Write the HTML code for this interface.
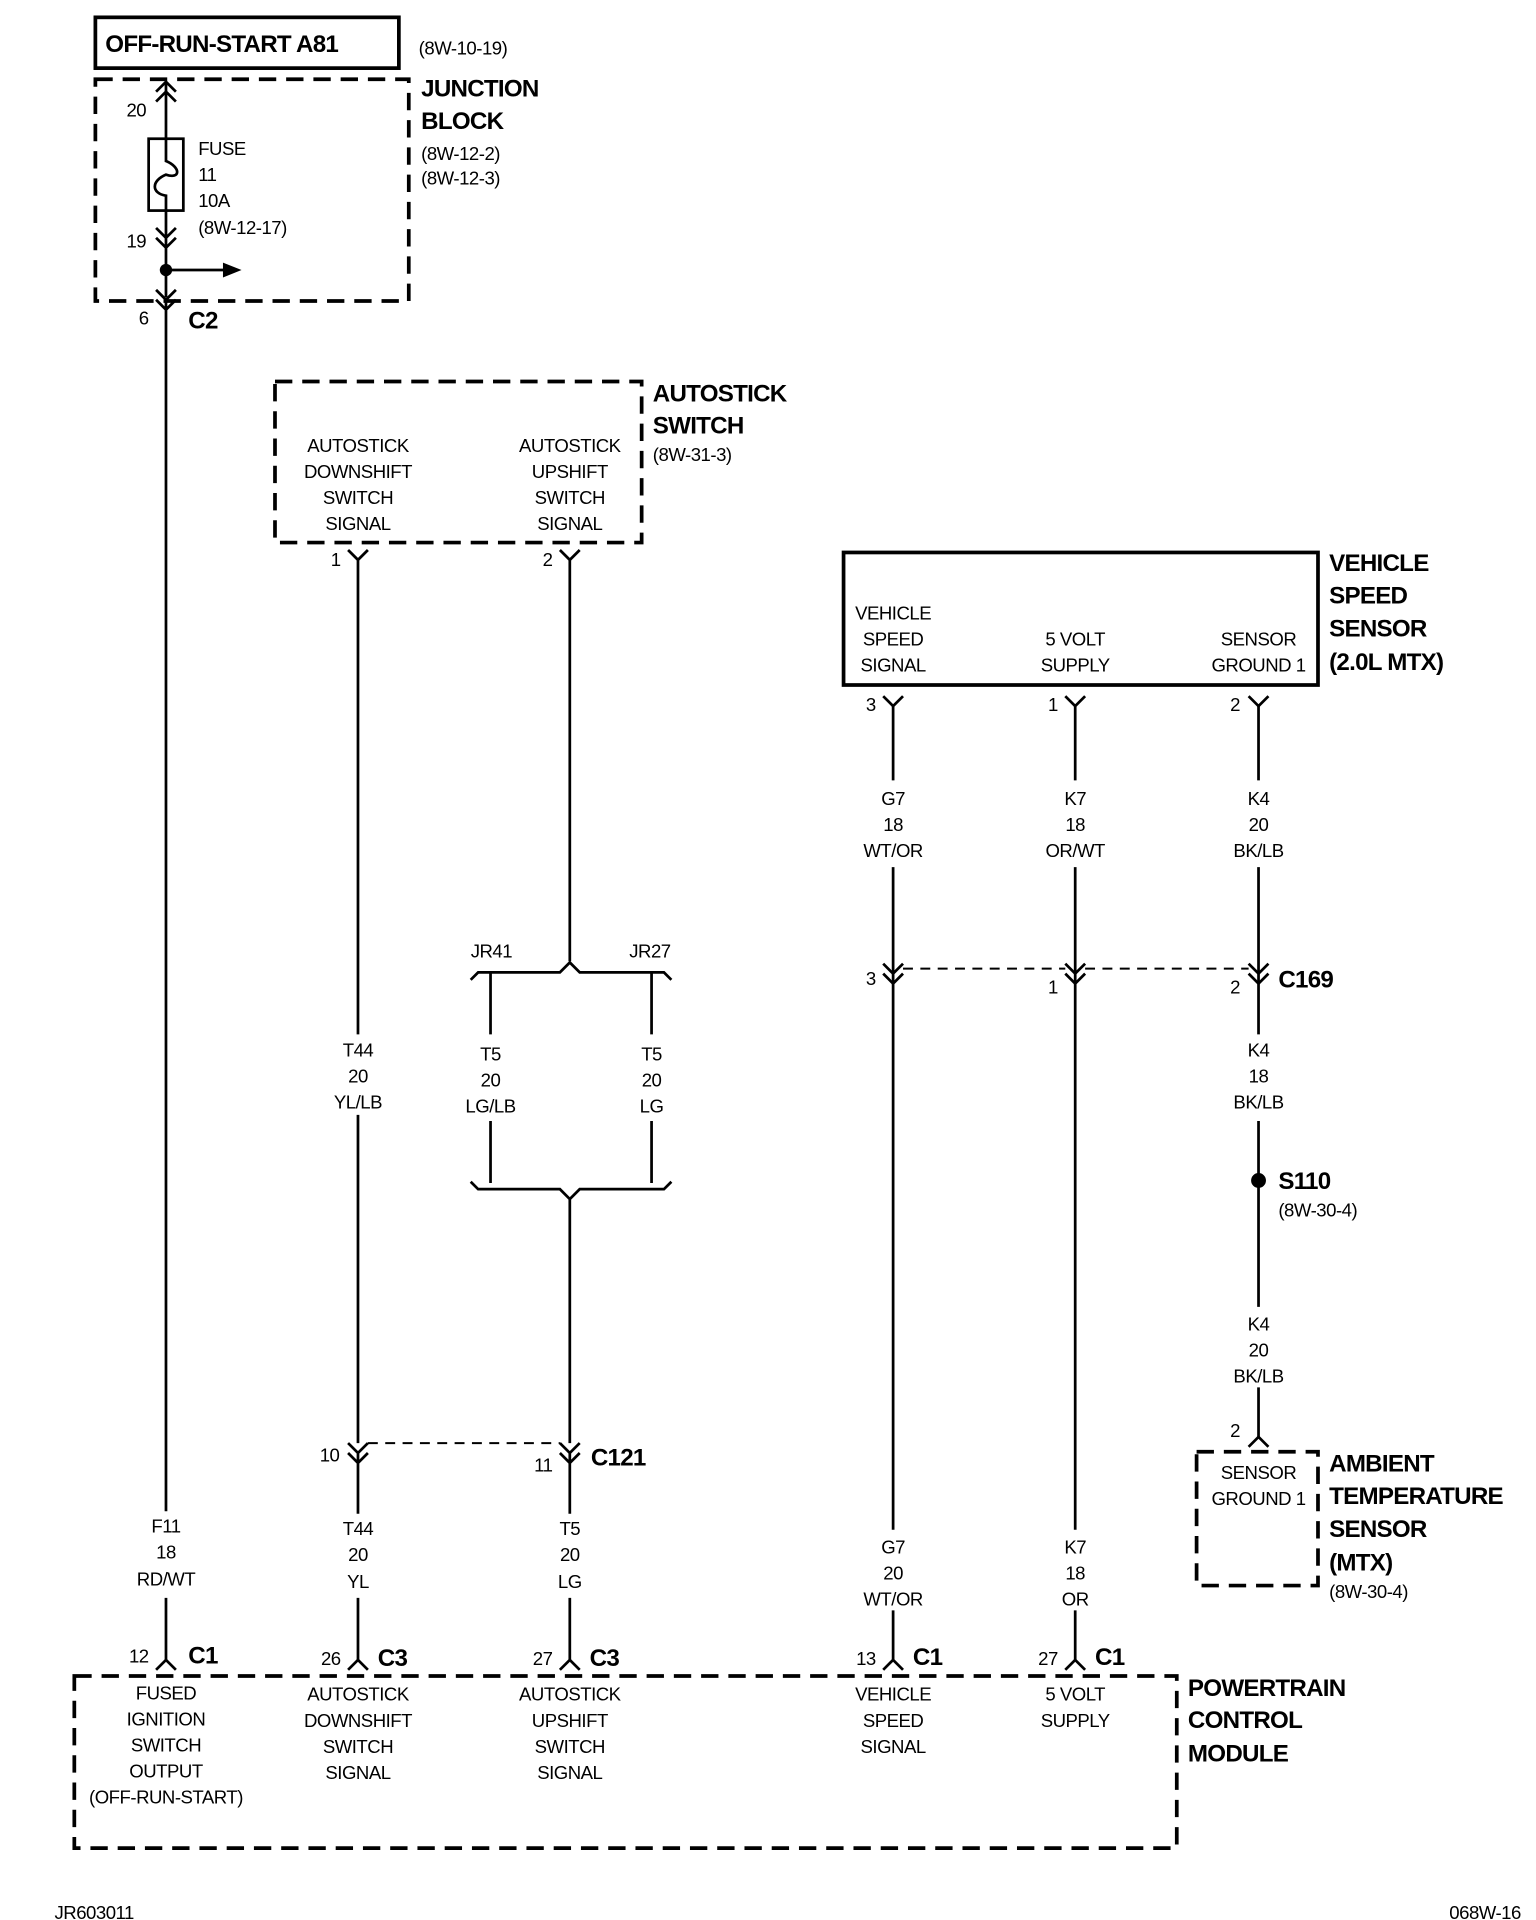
<!DOCTYPE html>
<html><head><meta charset="utf-8"><style>
html,body{margin:0;padding:0;background:#fff;}
svg{display:block}
text{font-family:"Liberation Sans Narrow","Liberation Sans",sans-serif;fill:#000;}
.t{font-size:15px;text-anchor:middle;letter-spacing:-0.4px}
.l{font-size:15px;letter-spacing:-0.4px}
.b{font-size:19.5px;font-weight:bold;letter-spacing:-0.6px}
.w{stroke:#000;stroke-width:2.2;fill:none}
.d{stroke:#000;stroke-width:3;fill:none;stroke-dasharray:14,8}
.dl{stroke:#000;stroke-width:1.6;fill:none;stroke-dasharray:8,6}
</style></head><body>
<svg width="1536" height="1920" viewBox="0 0 1240 1550" xmlns="http://www.w3.org/2000/svg">
<rect x="77" y="14" width="245" height="41" fill="none" stroke="#000" stroke-width="3"/>
<text x="85" y="42" class="b">OFF-RUN-START A81</text>
<text x="338" y="44" class="l">(8W-10-19)</text>
<rect x="77" y="64" width="253" height="179" class="d"/>
<text x="340" y="78" class="b">JUNCTION</text>
<text x="340" y="104" class="b">BLOCK</text>
<text x="340" y="129" class="l">(8W-12-2)</text>
<text x="340" y="149" class="l">(8W-12-3)</text>
<path class="w" d="M134 66 V112 M126 74 L134 66 L142 74 M126 82 L134 74 L142 82"/>
<text x="118" y="94" class="l" text-anchor="end">20</text>
<rect x="120" y="112" width="28" height="58" class="w"/>
<path class="w" d="M134 112 V130 C146 135 146 145 134 141 C122 146 122 156 134 158 V170"/>
<text x="160" y="125" class="l">FUSE</text>
<text x="160" y="146" class="l">11</text>
<text x="160" y="167" class="l">10A</text>
<text x="160" y="189" class="l">(8W-12-17)</text>
<path class="w" d="M134 170 V240 M126 184 L134 192 L142 184 M126 192 L134 200 L142 192"/>
<text x="118" y="200" class="l" text-anchor="end">19</text>
<circle cx="134" cy="218" r="5"/>
<path class="w" d="M134 218 H182"/>
<path d="M180 212 L195 218 L180 224Z"/>
<path class="w" d="M126 234 L134 242 L142 234 M126 242 L134 250 L142 242 M134 242 V1220 M134 1290 V1340"/>
<text x="120" y="262" class="l" text-anchor="end">6</text>
<text x="152" y="265" class="b">C2</text>

<rect x="222" y="308" width="296" height="130" class="d"/>
<text x="527" y="324" class="b">AUTOSTICK</text>
<text x="527" y="350" class="b">SWITCH</text>
<text x="527" y="372" class="l">(8W-31-3)</text>
<g class="t"><text x="289" y="365">AUTOSTICK</text><text x="289" y="386">DOWNSHIFT</text><text x="289" y="407">SWITCH</text><text x="289" y="428">SIGNAL</text>
<text x="460" y="365">AUTOSTICK</text><text x="460" y="386">UPSHIFT</text><text x="460" y="407">SWITCH</text><text x="460" y="428">SIGNAL</text></g>
<path class="w" d="M281 444 L289 452 L297 444 M289 452 V835 M289 900 V1165"/>
<text x="275" y="457" class="l" text-anchor="end">1</text>
<path class="w" d="M452 444 L460 452 L468 444 M460 452 V776"/>
<text x="446" y="457" class="l" text-anchor="end">2</text>
<text x="380" y="773" class="l">JR41</text><text x="508" y="773" class="l">JR27</text>
<path class="w" d="M380 791 L386 785 H452 L460 777 L468 785 H536 L542 791"/>
<path class="w" d="M396 785 V835 M526 785 V835 M396 905 V955 M526 905 V955"/>
<path class="w" d="M380 954 L386 960 H452 L460 968 L468 960 H536 L542 954 M460 968 V1165"/>
<g class="t"><text x="289" y="853">T44</text><text x="289" y="874">20</text><text x="289" y="895">YL/LB</text>
<text x="396" y="856">T5</text><text x="396" y="877">20</text><text x="396" y="898">LG/LB</text>
<text x="526" y="856">T5</text><text x="526" y="877">20</text><text x="526" y="898">LG</text></g>
<path class="w" d="M281 1165 L289 1173 L297 1165 M281 1173 L289 1181 L297 1173 M289 1173 V1222 M289 1290 V1340"/>
<path class="w" d="M452 1165 L460 1173 L468 1165 M452 1173 L460 1181 L468 1173 M460 1173 V1222 M460 1290 V1340"/>
<path class="dl" d="M297 1165 H452"/>
<text x="274" y="1180" class="l" text-anchor="end">10</text>
<text x="446" y="1188" class="l" text-anchor="end">11</text>
<text x="477" y="1183" class="b">C121</text>
<g class="t"><text x="134" y="1237">F11</text><text x="134" y="1258">18</text><text x="134" y="1280">RD/WT</text>
<text x="289" y="1239">T44</text><text x="289" y="1260">20</text><text x="289" y="1282">YL</text>
<text x="460" y="1239">T5</text><text x="460" y="1260">20</text><text x="460" y="1282">LG</text></g>

<rect x="681" y="446" width="383" height="107" fill="none" stroke="#000" stroke-width="3"/>
<text x="1073" y="461" class="b">VEHICLE</text><text x="1073" y="487" class="b">SPEED</text>
<text x="1073" y="514" class="b">SENSOR</text><text x="1073" y="541" class="b">(2.0L MTX)</text>
<g class="t"><text x="721" y="500">VEHICLE</text><text x="721" y="521">SPEED</text><text x="721" y="542">SIGNAL</text>
<text x="868" y="521">5 VOLT</text><text x="868" y="542">SUPPLY</text>
<text x="1016" y="521">SENSOR</text><text x="1016" y="542">GROUND 1</text></g>
<path class="w" d="M713 562 L721 570 L729 562 M860 562 L868 570 L876 562 M1008 562 L1016 570 L1024 562"/>
<path class="w" d="M721 570 V630 M721 700 V1235 M721 1300 V1340 M868 570 V630 M868 700 V1235 M868 1300 V1340 M1016 570 V630 M1016 700 V835 M1016 905 V1055 M1016 1120 V1160"/>
<text x="707" y="574" class="l" text-anchor="end">3</text><text x="854" y="574" class="l" text-anchor="end">1</text><text x="1001" y="574" class="l" text-anchor="end">2</text>
<g class="t"><text x="721" y="650">G7</text><text x="721" y="671">18</text><text x="721" y="692">WT/OR</text>
<text x="868" y="650">K7</text><text x="868" y="671">18</text><text x="868" y="692">OR/WT</text>
<text x="1016" y="650">K4</text><text x="1016" y="671">20</text><text x="1016" y="692">BK/LB</text></g>
<path class="w" d="M713 778 L721 786 L729 778 M713 786 L721 794 L729 786 M860 778 L868 786 L876 778 M860 786 L868 794 L876 786 M1008 778 L1016 786 L1024 778 M1008 786 L1016 794 L1024 786"/>
<path class="dl" d="M729 782 H860 M876 782 H1008"/>
<text x="707" y="795" class="l" text-anchor="end">3</text><text x="854" y="802" class="l" text-anchor="end">1</text><text x="1001" y="802" class="l" text-anchor="end">2</text>
<text x="1032" y="797" class="b">C169</text>
<g class="t"><text x="1016" y="853">K4</text><text x="1016" y="874">18</text><text x="1016" y="895">BK/LB</text>
<text x="1016" y="1074">K4</text><text x="1016" y="1095">20</text><text x="1016" y="1116">BK/LB</text></g>
<circle cx="1016" cy="953" r="6"/>
<text x="1032" y="960" class="b">S110</text>
<text x="1032" y="982" class="l">(8W-30-4)</text>
<path class="w" d="M1008 1168 L1016 1160 L1024 1168"/>
<text x="1001" y="1160" class="l" text-anchor="end">2</text>
<rect x="966" y="1172" width="98" height="108" class="d"/>
<g class="t"><text x="1016" y="1194">SENSOR</text><text x="1016" y="1215">GROUND 1</text></g>
<text x="1073" y="1188" class="b">AMBIENT</text><text x="1073" y="1214" class="b">TEMPERATURE</text>
<text x="1073" y="1241" class="b">SENSOR</text><text x="1073" y="1268" class="b">(MTX)</text>
<text x="1073" y="1290" class="l">(8W-30-4)</text>
<g class="t"><text x="721" y="1254">G7</text><text x="721" y="1275">20</text><text x="721" y="1296">WT/OR</text>
<text x="868" y="1254">K7</text><text x="868" y="1275">18</text><text x="868" y="1296">OR</text></g>

<path class="w" d="M126 1348 L134 1340 L142 1348 M281 1348 L289 1340 L297 1348 M452 1348 L460 1340 L468 1348 M713 1348 L721 1340 L729 1348 M860 1348 L868 1340 L876 1348"/>
<text x="120" y="1342" class="l" text-anchor="end">12</text><text x="152" y="1343" class="b">C1</text>
<text x="275" y="1344" class="l" text-anchor="end">26</text><text x="305" y="1345" class="b">C3</text>
<text x="446" y="1344" class="l" text-anchor="end">27</text><text x="476" y="1345" class="b">C3</text>
<text x="707" y="1344" class="l" text-anchor="end">13</text><text x="737" y="1344" class="b">C1</text>
<text x="854" y="1344" class="l" text-anchor="end">27</text><text x="884" y="1344" class="b">C1</text>
<rect x="60" y="1353" width="890" height="139" class="d"/>
<text x="959" y="1369" class="b">POWERTRAIN</text><text x="959" y="1395" class="b">CONTROL</text><text x="959" y="1422" class="b">MODULE</text>
<g class="t"><text x="134" y="1372">FUSED</text><text x="134" y="1393">IGNITION</text><text x="134" y="1414">SWITCH</text><text x="134" y="1435">OUTPUT</text><text x="134" y="1456">(OFF-RUN-START)</text>
<text x="289" y="1373">AUTOSTICK</text><text x="289" y="1394">DOWNSHIFT</text><text x="289" y="1415">SWITCH</text><text x="289" y="1436">SIGNAL</text>
<text x="460" y="1373">AUTOSTICK</text><text x="460" y="1394">UPSHIFT</text><text x="460" y="1415">SWITCH</text><text x="460" y="1436">SIGNAL</text>
<text x="721" y="1373">VEHICLE</text><text x="721" y="1394">SPEED</text><text x="721" y="1415">SIGNAL</text>
<text x="868" y="1373">5 VOLT</text><text x="868" y="1394">SUPPLY</text></g>
<text x="44" y="1549" class="l">JR603011</text>
<text x="1170" y="1549" class="l">068W-16</text>
</svg>
</body></html>
